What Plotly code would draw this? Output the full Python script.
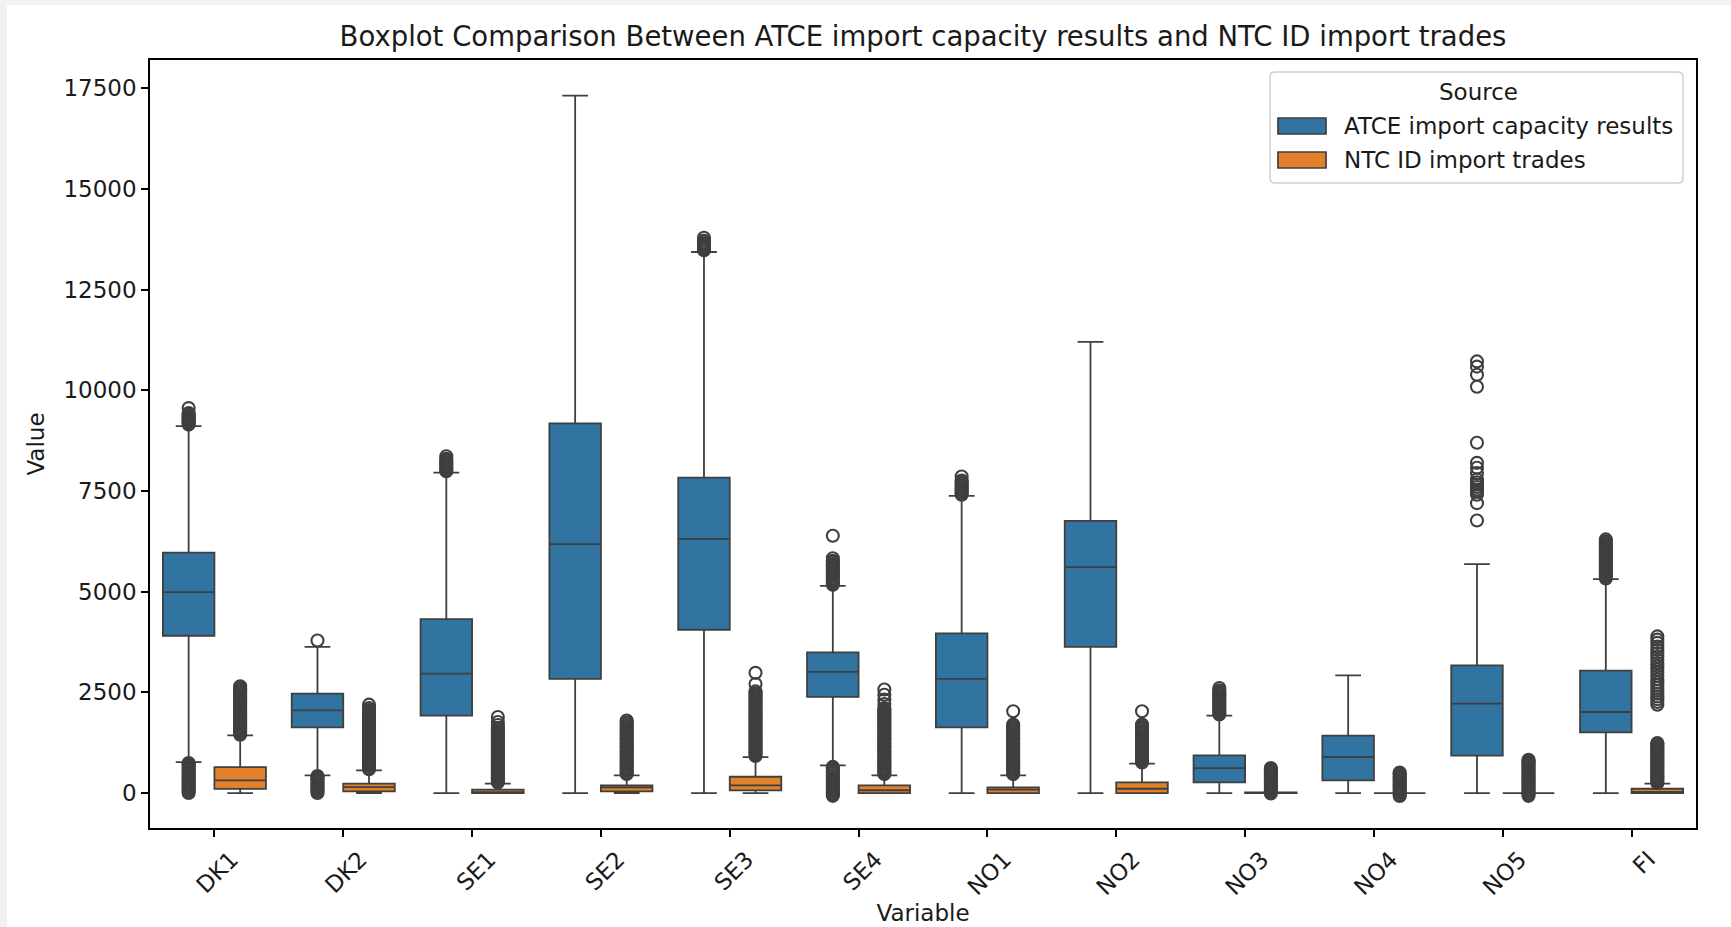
import plotly.graph_objects as go

# ---------------- data ----------------
categories = ["DK1", "DK2", "SE1", "SE2", "SE3", "SE4", "NO1", "NO2", "NO3", "NO4", "NO5", "FI"]
series_names = ["ATCE import capacity results", "NTC ID import trades"]

atce_q1 = [3906, 1631, 1921, 2833, 4055, 2386, 1631, 3628, 265, 314, 927, 1506]
atce_median = [4990, 2053, 2965, 6180, 6312, 3007, 2833, 5610, 621, 895, 2219, 2013]
atce_q3 = [5972, 2468, 4320, 9181, 7833, 3495, 3963, 6758, 935, 1424, 3171, 3039]
atce_lower = [770, 438, 0, 0, 0, 686, 0, 0, 0, 0, 0, 0]
atce_upper = [9114, 3628, 7956, 17322, 13437, 5146, 7380, 11205, 1922, 2922, 5684, 5312]

ntc_q1 = [104, 41, 0, 41, 65, 0, 0, 0, 0, 0, 0, 0]
ntc_median = [313, 149, 25, 140, 190, 70, 83, 107, 0, 0, 0, 30]
ntc_q3 = [646, 232, 83, 190, 405, 190, 140, 265, 15, 0, 0, 107]
ntc_lower = [0, 0, 0, 0, 0, 0, 0, 0, 0, 0, 0, 0]
ntc_upper = [1431, 563, 232, 438, 894, 438, 438, 729, 15, 0, 0, 232]

atce_outliers = [
    [0, 40, 80, 120, 160, 200, 240, 280, 320, 360, 400, 440, 480, 520, 560, 600, 640, 680,
     720, 745, 9150, 9180, 9210, 9240, 9270, 9300, 9330, 9360, 9400, 9440, 9560],
    [0, 40, 80, 120, 160, 200, 240, 280, 320, 360, 400, 425, 3790],
    [7990, 8020, 8060, 8100, 8140, 8180, 8220, 8260, 8300, 8365],
    [],
    [13480, 13510, 13550, 13590, 13630, 13670, 13720, 13790],
    [-70, -30, 10, 50, 90, 130, 170, 210, 250, 290, 330, 370, 410, 450, 490, 530, 570, 610,
     650, 5170, 5210, 5250, 5290, 5330, 5370, 5410, 5450, 5490, 5530, 5570, 5610, 5650,
     5690, 5730, 5770, 5830, 6390],
    [7410, 7440, 7480, 7520, 7560, 7600, 7640, 7680, 7720, 7760, 7860],
    [],
    [1950, 1990, 2030, 2070, 2110, 2150, 2190, 2230, 2270, 2310, 2350, 2390, 2430, 2470,
     2510, 2550, 2610],
    [],
    [6770, 7200, 7410, 7480, 7540, 7600, 7660, 7720, 7790, 7950, 8080, 8200, 8700,
     10090, 10390, 10590, 10720],
    [5330, 5370, 5410, 5450, 5490, 5530, 5570, 5610, 5650, 5690, 5730, 5770, 5810, 5850,
     5890, 5930, 5970, 6010, 6050, 6090, 6130, 6170, 6210, 6250, 6300],
]

ntc_outliers = [
    [1450, 1490, 1530, 1570, 1610, 1650, 1690, 1730, 1770, 1810, 1850, 1890, 1930, 1970,
     2010, 2050, 2090, 2130, 2170, 2210, 2250, 2290, 2330, 2370, 2410, 2450, 2490, 2530,
     2570, 2610, 2650],
    [590, 630, 670, 710, 750, 790, 830, 870, 910, 950, 990, 1030, 1070, 1110, 1150, 1190,
     1230, 1270, 1310, 1350, 1390, 1430, 1470, 1510, 1550, 1590, 1630, 1670, 1710, 1750,
     1790, 1830, 1870, 1910, 1950, 1990, 2030, 2060, 2110, 2195],
    [260, 300, 340, 380, 420, 460, 500, 540, 580, 620, 660, 700, 740, 780, 820, 860, 900,
     940, 980, 1020, 1060, 1100, 1140, 1180, 1220, 1260, 1300, 1340, 1380, 1420, 1460,
     1500, 1540, 1580, 1620, 1690, 1765, 1890],
    [470, 510, 550, 590, 630, 670, 710, 750, 790, 830, 870, 910, 950, 990, 1030, 1070,
     1110, 1150, 1190, 1230, 1270, 1310, 1350, 1390, 1430, 1470, 1510, 1550, 1590, 1630,
     1670, 1720, 1760, 1800],
    [920, 960, 1000, 1040, 1080, 1120, 1160, 1200, 1240, 1280, 1320, 1360, 1400, 1440,
     1480, 1520, 1560, 1600, 1640, 1680, 1720, 1760, 1800, 1840, 1880, 1920, 1960, 2000,
     2040, 2080, 2120, 2160, 2200, 2240, 2280, 2320, 2360, 2400, 2440, 2480, 2525, 2710,
     2985],
    [470, 510, 550, 590, 630, 670, 710, 750, 790, 830, 870, 910, 950, 990, 1030, 1070,
     1110, 1150, 1190, 1230, 1270, 1310, 1350, 1390, 1430, 1470, 1510, 1550, 1590, 1630,
     1670, 1710, 1750, 1790, 1830, 1870, 1910, 1950, 1990, 2030, 2070, 2110, 2210, 2320,
     2440, 2570],
    [470, 510, 550, 590, 630, 670, 710, 750, 790, 830, 870, 910, 950, 990, 1030, 1070,
     1110, 1150, 1190, 1230, 1270, 1310, 1350, 1390, 1430, 1470, 1510, 1550, 1590, 1630,
     1670, 1700, 2030],
    [760, 800, 840, 880, 920, 960, 1000, 1040, 1080, 1120, 1160, 1200, 1240, 1280, 1320,
     1360, 1400, 1440, 1480, 1520, 1560, 1600, 1640, 1670, 1700, 2030],
    [-10, 30, 70, 110, 150, 190, 230, 270, 310, 350, 390, 430, 470, 510, 550, 590, 620],
    [-75, -40, 0, 40, 80, 120, 160, 200, 240, 280, 320, 360, 400, 440, 480, 510],
    [-70, -30, 10, 50, 90, 130, 170, 210, 250, 290, 330, 370, 410, 450, 490, 530, 570, 610,
     650, 690, 730, 770, 800, 825],
    [250, 290, 330, 370, 410, 450, 490, 530, 570, 610, 650, 690, 730, 770, 810, 850, 890,
     930, 970, 1010, 1050, 1090, 1130, 1170, 1210, 1243,
     2195, 2260, 2330, 2400, 2470, 2540, 2610, 2680, 2750, 2830, 2910, 2990, 3070, 3150,
     3230, 3310, 3390, 3470, 3560, 3640, 3730, 3810, 3890],
]

y_ticks = [0, 2500, 5000, 7500, 10000, 12500, 15000, 17500]

# ---------------- styling ----------------
FONT = "DejaVu Sans"
BLUE = "#3274a1"
ORANGE = "#e1812c"
EDGE = "#3f3f3f"
TXT = "#1a1a1a"
W, H = 1731, 927
ML, MR, MT, MB = 150, 35, 60, 99
PW, PH = W - ML - MR, H - MT - MB
FS = 23


def px_x(px):
    return (px - ML) / PW


def px_y(py):
    return (MT + PH - py) / PH


fig = go.Figure()

series = [
    (atce_q1, atce_median, atce_q3, atce_lower, atce_upper, atce_outliers, BLUE, -0.2),
    (ntc_q1, ntc_median, ntc_q3, ntc_lower, ntc_upper, ntc_outliers, ORANGE, 0.2),
]

for name, (q1, med, q3, lo, hi, outs, color, off) in zip(series_names, series):
    pos = [i + off for i in range(len(categories))]
    fig.add_trace(go.Box(
        name=name, x=pos, q1=q1, median=med, q3=q3,
        lowerfence=lo, upperfence=hi,
        width=0.4, whiskerwidth=0.5,
        fillcolor=color, line=dict(color=EDGE, width=1.8),
        boxpoints=False, showlegend=False, hoverinfo="y",
    ))

for name, (q1, med, q3, lo, hi, outs, color, off) in zip(series_names, series):
    xs, ys = [], []
    for i, vals in enumerate(outs):
        xs += [i + off] * len(vals)
        ys += vals
    fig.add_trace(go.Scatter(
        x=xs, y=ys, mode="markers", name=name + " outliers", showlegend=False,
        marker=dict(symbol="circle-open", size=12, color=EDGE, line=dict(width=2.1, color=EDGE)),
    ))

# ---------------- custom matplotlib-style legend ----------------
shapes = []
# figure white area over light-gray page border
shapes.append(dict(type="rect", xref="paper", yref="paper", layer="below",
                   x0=px_x(7), x1=px_x(W), y0=px_y(H), y1=px_y(5),
                   fillcolor="white", line=dict(width=0)))


def rounded_rect(x0, y0, x1, y1, r):
    ax0, ax1 = px_x(x0), px_x(x1)
    ay0, ay1 = px_y(y1), px_y(y0)
    rx, ry = r / PW, r / PH
    return (f"M{ax0 + rx},{ay0} L{ax1 - rx},{ay0} Q{ax1},{ay0} {ax1},{ay0 + ry} "
            f"L{ax1},{ay1 - ry} Q{ax1},{ay1} {ax1 - rx},{ay1} "
            f"L{ax0 + rx},{ay1} Q{ax0},{ay1} {ax0},{ay1 - ry} "
            f"L{ax0},{ay0 + ry} Q{ax0},{ay0} {ax0 + rx},{ay0} Z")


shapes.append(dict(type="path", xref="paper", yref="paper",
                   path=rounded_rect(1270, 72, 1683, 183, 5),
                   fillcolor="rgba(255,255,255,0.8)", line=dict(color="#d0d0d0", width=1.5)))
legend_rows = [(126, BLUE, series_names[0]), (160, ORANGE, series_names[1])]
annotations = [dict(text="Source", xref="paper", yref="paper", x=px_x(1478), y=px_y(92),
                    xanchor="center", yanchor="middle", showarrow=False,
                    font=dict(family=FONT, size=FS, color=TXT))]
for cy, color, label in legend_rows:
    shapes.append(dict(type="rect", xref="paper", yref="paper",
                       x0=px_x(1278), x1=px_x(1326), y0=px_y(cy + 8), y1=px_y(cy - 8),
                       fillcolor=color, line=dict(color=EDGE, width=1.7)))
    annotations.append(dict(text=label, xref="paper", yref="paper", x=px_x(1342), y=px_y(cy),
                            xanchor="left", yanchor="middle", showarrow=False,
                            font=dict(family=FONT, size=FS, color=TXT)))

fig.update_layout(
    width=W, height=H,
    margin=dict(l=ML, r=MR, t=MT, b=MB, autoexpand=False),
    paper_bgcolor="#f1f1f1", plot_bgcolor="white",
    font=dict(family=FONT, size=FS, color=TXT),
    title=dict(text="Boxplot Comparison Between ATCE import capacity results and NTC ID import trades",
               x=0.5, xref="paper", xanchor="center", y=1 - 36.5 / H, yref="container",
               yanchor="middle", font=dict(family=FONT, size=27.5, color=TXT)),
    boxmode="overlay",
    showlegend=False,
    shapes=shapes,
    annotations=annotations,
    xaxis=dict(
        range=[-0.5, len(categories) - 0.5],
        tickmode="array", tickvals=list(range(len(categories))), ticktext=categories,
        tickangle=-45, ticklabelshift=17,
        showgrid=False, zeroline=False,
        showline=True, mirror=True, linecolor="black", linewidth=1.7,
        ticks="outside", ticklen=7, tickwidth=1.7, tickcolor="black",
        tickfont=dict(family=FONT, size=FS, color=TXT),
        title=dict(text="Variable", standoff=6, font=dict(family=FONT, size=FS, color=TXT)),
        automargin=False,
    ),
    yaxis=dict(
        range=[-868, 18205],
        tickmode="array", tickvals=y_ticks, tickformat="d",
        showgrid=False, zeroline=False,
        showline=True, mirror=True, linecolor="black", linewidth=1.7,
        ticks="outside", ticklen=7, tickwidth=1.7, tickcolor="black",
        tickfont=dict(family=FONT, size=FS, color=TXT),
        title=dict(text="Value", standoff=12, font=dict(family=FONT, size=FS, color=TXT)),
        automargin=False,
    ),
)

fig.write_html("out.html")
